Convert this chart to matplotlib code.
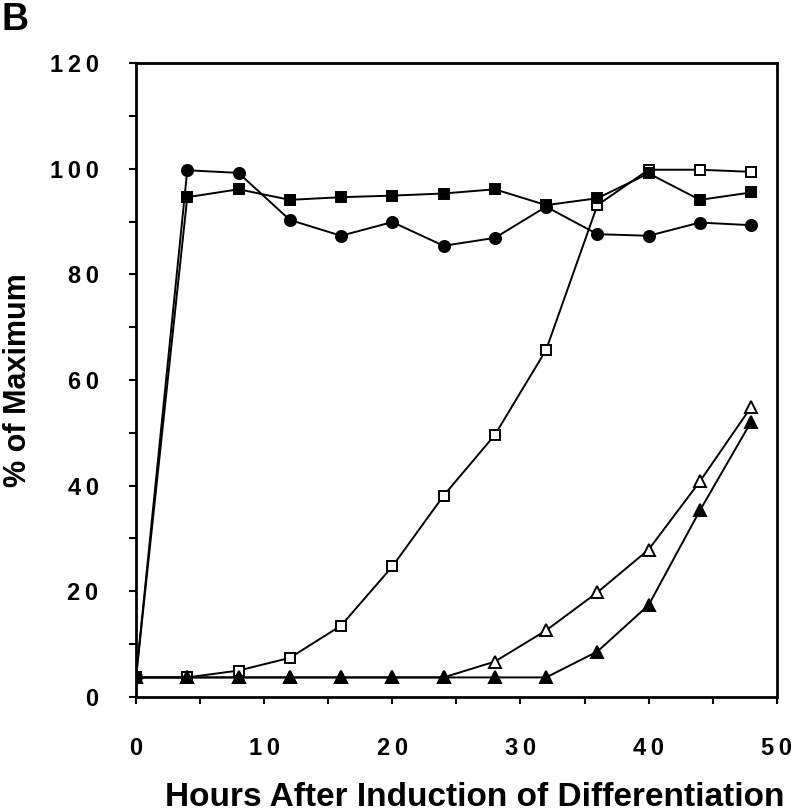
import matplotlib
matplotlib.use("Agg")
import matplotlib.pyplot as plt
from matplotlib.ticker import MultipleLocator, FuncFormatter

hours = [0, 4, 8, 12, 16, 20, 24, 28, 32, 36, 40, 44, 48]

filled_circles = [3.7, 99.7, 99.2, 90.3, 87.3, 89.9, 85.4, 86.9, 92.8, 87.6, 87.3, 89.8, 89.3]
filled_squares = [3.7, 94.6, 96.1, 94.1, 94.6, 94.9, 95.3, 96.1, 93.1, 94.4, 99.1, 94.1, 95.5]
open_squares = [3.7, 3.7, 5.0, 7.4, 13.5, 24.7, 38.1, 49.6, 65.7, 93.1, 99.8, 99.8, 99.4]
open_triangles = [3.7, 3.7, 3.7, 3.7, 3.7, 3.7, 3.7, 6.7, 12.6, 19.8, 27.9, 40.8, 54.9]
filled_triangles = [3.7, 3.7, 3.7, 3.7, 3.7, 3.7, 3.7, 3.7, 3.7, 8.6, 17.4, 35.3, 52.1]

plt.rcParams['font.family'] = ['Liberation Sans', 'DejaVu Sans']
plt.rcParams['font.weight'] = 'bold'

fig = plt.figure(figsize=(8, 8.11), dpi=100)
ax = fig.add_axes([0.17, 0.1406, 0.801, 0.7817])

# (values, marker, face, size) - drawn in this order
series = [
    (open_triangles, '^', 'white', 8.5),
    (open_squares, 's', 'white', 7),
    (filled_triangles, '^', 'black', 8.5),
    (filled_circles, 'o', 'black', 8),
    (filled_squares, 's', 'black', 7),
]
for vals, m, face, ms in series:
    ax.plot(hours, vals, color='black', lw=1.4, marker=m, ms=ms,
            markerfacecolor=face, markeredgecolor='black', markeredgewidth=1.4)

spaced = FuncFormatter(lambda v, p: '\u2009'.join(str(int(v))))

ax.set_xlim(0, 50)
ax.set_ylim(0, 120)
ax.xaxis.set_major_locator(MultipleLocator(10))
ax.xaxis.set_minor_locator(MultipleLocator(5))
ax.yaxis.set_major_locator(MultipleLocator(20))
ax.yaxis.set_minor_locator(MultipleLocator(10))
ax.xaxis.set_major_formatter(spaced)
ax.yaxis.set_major_formatter(spaced)
ax.tick_params(which='both', direction='out', width=1.5, length=5, labelsize=17)
ax.tick_params(axis='y', pad=22)
ax.tick_params(axis='x', pad=24)
for sp in ax.spines.values():
    sp.set_linewidth(2)

for lab in ax.get_xticklabels() + ax.get_yticklabels():
    lab.set_fontweight('heavy')

ax.set_xlabel('Hours After Induction of Differentiation', fontsize=24,
              fontweight='heavy', va='center')
ax.xaxis.set_label_coords(0.529, -0.158)
ax.set_ylabel('% of Maximum', fontsize=22, fontweight='heavy', va='center')
ax.yaxis.set_label_coords(-0.184, 0.5)

fig.text(0.002, 0.997, 'B', fontsize=27, fontweight='heavy', va='top', ha='left')

fig.savefig('out.png', dpi=100)
